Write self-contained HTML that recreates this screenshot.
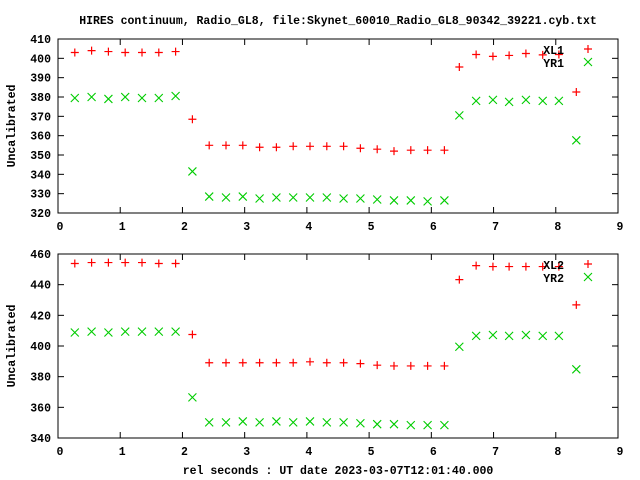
<!DOCTYPE html>
<html><head><meta charset="utf-8"><style>
body{margin:0;background:#fff}
svg{display:block}
text{font-family:"Liberation Mono",monospace;font-weight:bold;font-size:11.5px;fill:#000}
</style></head><body>
<svg id="c" width="640" height="480">
<text x="338" y="24" text-anchor="middle">HIRES continuum, Radio_GL8, file:Skynet_60010_Radio_GL8_90342_39221.cyb.txt</text>
<text x="338" y="474" text-anchor="middle">rel seconds : UT date 2023-03-07T12:01:40.000</text>
</svg>
<script>
const xs=[0.27,0.54,0.81,1.08,1.35,1.62,1.89,2.16,2.43,2.70,2.97,3.24,3.51,3.78,4.05,4.32,4.59,4.86,5.13,5.40,5.67,5.94,6.21,6.45,6.72,6.99,7.25,7.52,7.79,8.05,8.33];
const xl1=[403,404,403.5,403,403,403,403.5,368.5,355,355,355,354,354,354.5,354.5,354.5,354.5,353.5,353,352,352.5,352.5,352.5,395.5,402,401,401.5,402.5,401.8,402,382.6];
const yr1=[379.5,380,379,380,379.5,379.5,380.5,341.5,328.5,328,328.5,327.5,328,328,328,328,327.5,327.5,327,326.5,326.5,326,326.5,370.5,378,378.5,377.5,378.5,378,378,357.6];
const xl2=[453.8,454.4,454.4,454.4,454.4,453.8,453.8,407.5,389.1,389.1,389.1,389.1,389.1,389.1,389.7,389.1,389.1,388.5,387.5,387,387,387,387,443.3,452.4,451.8,451.8,451.8,451.8,451.8,426.8];
const yr2=[408.8,409.4,408.8,409.4,409.4,409.4,409.4,366.5,350.2,350.2,350.8,350.2,350.8,350.2,350.8,350.2,350.2,349.6,349,349,348.4,348.4,348.4,399.5,406.6,407.2,406.6,407.2,406.6,406.6,384.8];
const xTicks=[0,1,2,3,4,5,6,7,8,9];
const yTicks1=[320,330,340,350,360,370,380,390,400,410];
const yTicks2=[340,360,380,400,420,440,460];
const svg=document.getElementById('c');const NS='http://www.w3.org/2000/svg';
function mk(t,a,p){const e=document.createElementNS(NS,t);for(const k in a)e.setAttribute(k,a[k]);(p||svg).appendChild(e);return e;}
function panel(top,bot,ymin,ymax,yt,s1,s2,n1,n2,id){
 const L=58,R=618;
 const X=v=>L+(v-0)/9*(R-L), Y=v=>bot-(v-ymin)/(ymax-ymin)*(bot-top);
 const g=mk('g',{});
 
 
 xTicks.forEach(t=>{const x=X(t);
  mk('line',{x1:x,x2:x,y1:bot,y2:bot-6,stroke:'#000'},g);
  mk('line',{x1:x,x2:x,y1:top,y2:top+6,stroke:'#000'},g);
  const tx=mk('text',{x:x+2,y:bot+17,'text-anchor':'middle'},g);tx.textContent=t;
  
  });
 yt.forEach(t=>{const y=Y(t);
  mk('line',{x1:L,x2:L+6,y1:y,y2:y,stroke:'#000'},g);
  mk('line',{x1:R,x2:R-6,y1:y,y2:y,stroke:'#000'},g);
  const tx=mk('text',{x:51,y:y+4,'text-anchor':'end'},g);tx.textContent=t;
  
  });
 const b=mk('rect',{x:L,y:top,width:R-L,height:bot-top,fill:'none',stroke:'#000'},g);
 
 
 const yl=mk('text',{transform:`translate(15,${(top+bot)/2}) rotate(-90)`,'text-anchor':'middle'},g);yl.textContent='Uncalibrated';
 
 
 function plus(x,y){const p=mk('path',{d:`M${x-4},${y}h8M${x},${y-4}v8`,stroke:'#f00','stroke-width':1.2,fill:'none'},g);return p;}
 function cross(x,y){const p=mk('path',{d:`M${x-4},${y-4}l8,8M${x-4},${y+4}l8,-8`,stroke:'#0c0','stroke-width':1.1,fill:'none'},g);return p;}
 xs.forEach((v,i)=>{const p=plus(X(v),Y(s1[i]));
  
  });
 xs.forEach((v,i)=>{const p=cross(X(v),Y(s2[i]));
  
  });
 const l1=mk('text',{x:564,y:top+15,'text-anchor':'end'},g);l1.textContent=n1;
 
 
 plus(588,top+10);
 const l2=mk('text',{x:564,y:top+28,'text-anchor':'end'},g);l2.textContent=n2;
 
 
 cross(588,top+23);
}
panel(39,213,320,410,yTicks1,xl1,yr1,'XL1','YR1','top');
panel(254,438,340,460,yTicks2,xl2,yr2,'XL2','YR2','bottom');
</script>
</body></html>
